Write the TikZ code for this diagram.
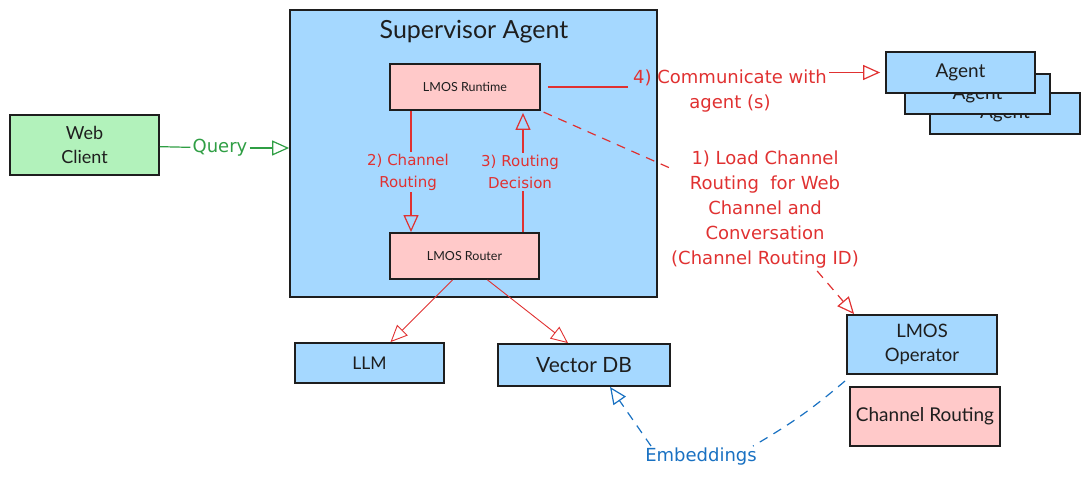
\documentclass[tikz,border=0pt]{standalone}
\usepackage{fontspec}
\setmainfont{Lato}
\newfontfamily\handfont{DejaVu Sans}
\usetikzlibrary{arrows.meta,positioning}
\definecolor{boxblue}{HTML}{A5D8FF}
\definecolor{boxpink}{HTML}{FFC9C9}
\definecolor{boxgreen}{HTML}{B2F2BB}
\definecolor{boxline}{HTML}{1E1E1E}
\definecolor{hred}{HTML}{E03131}
\definecolor{hgreen}{HTML}{2F9E44}
\definecolor{hblue}{HTML}{1971C2}

\begin{document}
\begin{tikzpicture}[x=1pt,y=-1pt,
        box/.style={shape=rectangle,draw=boxline,line width=1.8pt,align=center,inner sep=2pt,text=boxline},
        bluebox/.style={box,fill=boxblue},
        pinkbox/.style={box,fill=boxpink},
        greenbox/.style={box,fill=boxgreen},
        hand/.style={font=\handfont\fontsize{18}{25}\selectfont,align=center,inner sep=2pt},
        smallhand/.style={hand,font=\handfont\fontsize{15}{22}\selectfont},
        flow/.style={line width=1.2pt,-{Triangle[open,length=17pt,width=15pt]}},
        plain/.style={line width=1.2pt},
        ]
\useasboundingbox (0,0) rectangle (1089,479);

% boxes
\node [greenbox, minimum width=149, minimum height=60, font=\fontsize{18}{24}\selectfont] (web) at (84.5,145) {Web\\Client};
\node [bluebox, minimum width=367, minimum height=287] (sup) at (473.5,153.5) {};
\node [font=\fontsize{25}{28}\selectfont, text=boxline] (suptitle) at (474,32) {Supervisor Agent};
\node [pinkbox, minimum width=150, minimum height=46, font=\fontsize{12.5}{14}\selectfont] (runtime) at (465,87) {LMOS Runtime};
\node [pinkbox, minimum width=149, minimum height=46, font=\fontsize{12.5}{14}\selectfont] (router) at (464.5,256) {LMOS Router};
\node [bluebox, minimum width=149, minimum height=40, font=\fontsize{17.5}{20}\selectfont] (llm) at (369.5,363) {LLM};
\node [bluebox, minimum width=172, minimum height=42, font=\fontsize{21}{24}\selectfont] (vdb) at (584,365) {Vector DB};

\node [bluebox, minimum width=150, minimum height=41, font=\fontsize{19}{22}\selectfont] (agent3) at (1005,113.5) {Agent};
\node [bluebox, minimum width=145, minimum height=40, font=\fontsize{19}{22}\selectfont] (agent2) at (977.5,94) {Agent};
\node [bluebox, minimum width=149, minimum height=41, font=\fontsize{19}{22}\selectfont] (agent1) at (960.5,72.5) {Agent};

\node [bluebox, minimum width=150, minimum height=59, font=\fontsize{18.5}{24}\selectfont] (operator) at (922,344.5) {LMOS\\Operator};
\node [pinkbox, minimum width=150, minimum height=59, font=\fontsize{19}{22}\selectfont] (chrouting) at (925,416.5) {Channel Routing};

% labels
\node [hand, text=hgreen] (query) at (220,148) {Query};
\node [smallhand, text=hred] (lbl2) at (408,172) {2) Channel\\Routing};
\node [smallhand, text=hred] (lbl3) at (520,172) {3) Routing\\Decision};
\node [hand, text=hred] (lbl4) at (730,91) {4) Communicate with\\agent (s)};
\node [hand, text=hred] (lbl1) at (765,210) {1) Load Channel\\Routing \ for Web\\Channel and\\Conversation\\(Channel Routing ID)};
\node [hand, text=hblue] (emb) at (701,457) {Embeddings};
\coordinate (opfoot) at (845,381);

% connectors
\draw [plain, hgreen] (web) -- (query);
\draw [flow, hgreen] (query) -- (sup.west |- query);

\draw [plain, hred] (runtime.south -| 411,0) -- (lbl2.north -| 411,0);
\draw [flow, hred] (lbl2.south -| 411,0) -- (router.north -| 411,0);
\draw [plain, hred] (router.north -| 523,0) -- (lbl3.south -| 523,0);
\draw [flow, hred, shorten >=2pt] (lbl3.north -| 523,0) -- (runtime.south -| 523,0);

\draw [plain, hred, shorten <=7pt, shorten >=3pt] (runtime.east) -- (lbl4.west |- runtime.east);
\draw [flow, hred, shorten >=5pt] (lbl4.east |- agent1.west) -- (agent1.west);

\draw [plain, hred, dash pattern=on 9pt off 7pt, shorten <=3pt] (runtime.south east) -- (lbl1);
\draw [flow, hred, dash pattern=on 9pt off 7pt] (lbl1) -- ([xshift=8pt]operator.north west);

\draw [flow, hred, line width=0.9pt] ([xshift=-12pt]router.south) -- ([xshift=21pt]llm.north);
\draw [flow, hred, line width=0.9pt] ([xshift=23pt]router.south) -- ([xshift=-16pt]vdb.north);

\draw [plain, hblue, dash pattern=on 9pt off 7pt] (opfoot) to[bend left=5] ([xshift=-6pt]emb.north east);
\draw [flow, hblue, dash pattern=on 9pt off 7pt] ([xshift=8pt]emb.north west) -- ([xshift=26pt]vdb.south);

\end{tikzpicture}
\end{document}
